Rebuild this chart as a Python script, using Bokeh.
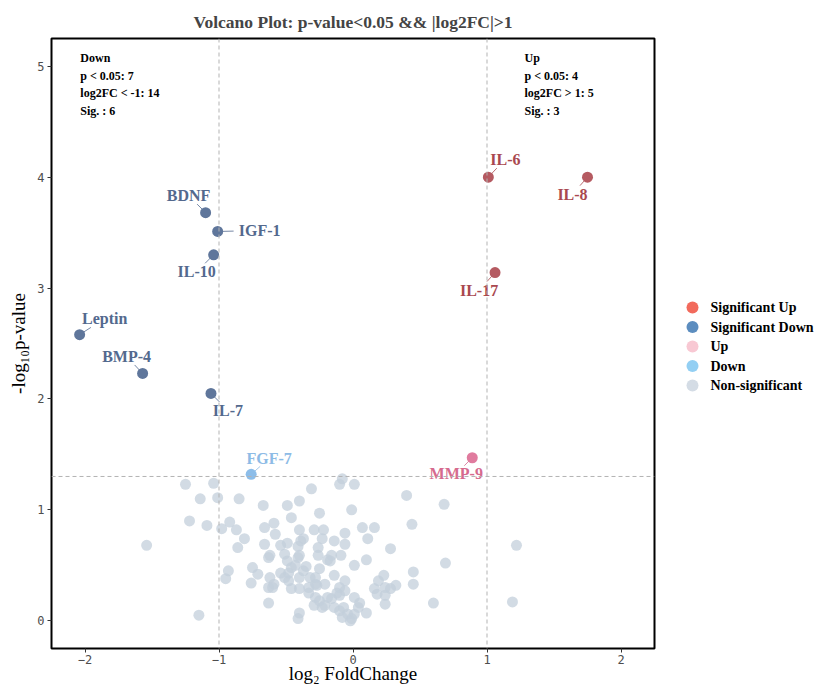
import math
from bokeh.plotting import figure
from bokeh.layouts import row
from bokeh.models import Range1d, Span, Label, FixedTicker
from bokeh.embed import file_html
from bokeh.resources import INLINE
from bokeh.core.properties import value

# ---------------- data ----------------
genes = ["IL-6", "IL-8", "IL-17", "MMP-9", "BDNF", "IGF-1", "IL-10",
         "Leptin", "BMP-4", "IL-7", "FGF-7"]
gene_log2fc = [1.01, 1.75, 1.06, 0.89, -1.10, -1.01, -1.04, -2.04, -1.57, -1.06, -0.76]
gene_neglog10p = [4.00, 4.00, 3.14, 1.47, 3.68, 3.51, 3.30, 2.58, 2.23, 2.05, 1.32]

ns_log2fc = [
    -1.54, -1.25, -1.04, -1.14, -1.01, -0.85, -1.22, -1.09, -0.98, -0.92, -0.87, -0.81, -0.86, -1.15,
    -0.95, -0.93, -0.75, -0.71, -0.76, -0.63, -0.63, -0.63, -0.66, -0.66, -0.67,
    -0.49, -0.40, -0.46, -0.31, -0.25, -0.08, -0.10, 0.01, -0.01,
    -0.59, -0.58, -0.54, -0.49, -0.51, -0.49, -0.40, -0.39, -0.37, -0.41, -0.41, -0.35,
    -0.29, -0.22, -0.23, -0.14, -0.06, -0.06, 0.07, 0.16, 0.11,
    -0.09, -0.16, -0.19, -0.26, -0.26, -0.25, 0.28, 0.10, 0.01,
    -0.14, -0.21, -0.28, -0.32, -0.37, -0.40, -0.46, -0.48, -0.46, -0.51, -0.54, -0.48, -0.59, -0.40,
    -0.33, -0.28, -0.25, -0.21, -0.16, -0.12, -0.10, -0.06, -0.14, -0.10, -0.07, -0.04, -0.01, 0.01,
    0.05, 0.04, 0.10, -0.40, -0.41,
    0.16, 0.19, 0.23, 0.24, 0.28, 0.32, 0.24, 0.18, 0.24, -0.02, -0.06, -0.62, -0.60, -0.40, -0.17, -0.62,
    0.40, 0.68, 0.44, 0.69, 0.45, 0.45, 0.60, 1.22, 1.19,
    -0.27, -0.33, -0.43, -0.28, -0.10, -0.19, -0.23, -0.29, 0.01, -0.08]
ns_neglog10p = [
    0.68, 1.23, 1.24, 1.10, 1.11, 1.10, 0.90, 0.86, 0.83, 0.89, 0.82, 0.74, 0.66, 0.05,
    0.38, 0.45, 0.48, 0.42, 0.34, 0.16, 0.30, 0.57, 0.84, 0.69, 1.04,
    1.04, 1.08, 0.93, 1.19, 0.97, 1.28, 1.23, 1.23, 1.00,
    0.88, 0.78, 0.68, 0.70, 0.60, 0.54, 0.82, 0.72, 0.74, 0.67, 0.57, 0.49,
    0.82, 0.82, 0.74, 0.72, 0.79, 0.69, 0.84, 0.84, 0.74,
    0.59, 0.59, 0.55, 0.66, 0.59, 0.47, 0.65, 0.55, 0.50,
    0.41, 0.33, 0.33, 0.39, 0.45, 0.39, 0.48, 0.36, 0.29, 0.39, 0.43, 0.43, 0.33, 0.29,
    0.25, 0.21, 0.18, 0.14, 0.20, 0.25, 0.30, 0.27, 0.12, 0.09, 0.12, 0.06, 0.02, 0.21,
    0.16, 0.12, 0.07, 0.07, 0.02,
    0.29, 0.36, 0.41, 0.30, 0.29, 0.32, 0.15, 0.24, 0.23, 0.00, 0.36, 0.39, 0.30, 0.59, 0.54, 0.59,
    1.13, 1.05, 0.87, 0.52, 0.44, 0.33, 0.16, 0.68, 0.17,
    0.32, 0.30, 0.50, 0.39, 0.23, 0.21, 0.12, 0.14, 0.06, 0.03]
assert len(ns_log2fc) == len(ns_neglog10p)

x_ticks = [-2, -1, 0, 1, 2]
y_ticks = [0, 1, 2, 3, 4, 5]
legend_labels = ["Significant Up", "Significant Down", "Up", "Down", "Non-significant"]

P_CUT = -math.log10(0.05)
FC_CUT = 1.0

# ---------------- layout / style ----------------
X_RANGE = (-2.25, 2.25)
Y_RANGE = (-0.25, 5.25)
W, H = 656, 686
BL, BR, BT, BB = 51, 2, 38, 38
LEG_W = 161
PXX = (W - BL - BR) / (X_RANGE[1] - X_RANGE[0])
PXY = (H - BT - BB) / (Y_RANGE[1] - Y_RANGE[0])

SERIF = "Liberation Serif"
point_col = {"sig_up": "#b55a61", "sig_down": "#5f769b", "up": "#e07b9e", "down": "#8cbde9"}
text_col = {"sig_up": "#a9484f", "sig_down": "#53698e", "up": "#d66a8e", "down": "#8dbbe6"}
legend_colors = ["#f26a5c", "#5c8dbf", "#f8c8d3", "#93cff3", "#d4dce5"]
NS_COLOR = "#c3cfdb"

# label offsets (px, right / down) and leader-line fraction
label_dx = [17, -15, -16, -16, -17, 42, -17, 25, -16, 17, 18]
label_dy = [-18, 17, 18, 16, -17, -1, 17, -16, -17, 17, -16]
lead_frac = [0.5, 0.5, 0.5, 0.5, 0.5, 0.38, 0.5, 0.45, 0.5, 0.5, 0.5]

# legend geometry (page pixels; the legend panel's frame is aligned with the main frame)
LEG_DOT_X, LEG_TXT_X, LEG_TOP_Y, LEG_STEP = 36, 54, 307, 19.5


def group(fc, lp):
    if lp > P_CUT and fc > FC_CUT:
        return "sig_up"
    if lp > P_CUT and fc < -FC_CUT:
        return "sig_down"
    if lp > P_CUT and fc > 0:
        return "up"
    if lp > P_CUT and fc < 0:
        return "down"
    return "ns"


all_fc = gene_log2fc + ns_log2fc
all_lp = gene_neglog10p + ns_neglog10p
down_p = sum(1 for f, l in zip(all_fc, all_lp) if l > P_CUT and f < 0)
down_fc = sum(1 for f in all_fc if f < -FC_CUT)
down_sig = sum(1 for f, l in zip(all_fc, all_lp) if l > P_CUT and f < -FC_CUT)
up_p = sum(1 for f, l in zip(all_fc, all_lp) if l > P_CUT and f > 0)
up_fc = sum(1 for f in all_fc if f > FC_CUT)
up_sig = sum(1 for f, l in zip(all_fc, all_lp) if l > P_CUT and f > FC_CUT)

p = figure(width=W, height=H, output_backend="svg", toolbar_location=None,
           x_range=Range1d(*X_RANGE), y_range=Range1d(*Y_RANGE),
           min_border_left=BL, min_border_right=BR, min_border_top=BT, min_border_bottom=BB)
p.background_fill_color = "white"
p.border_fill_color = "white"
p.grid.visible = False
p.outline_line_color = "black"
p.outline_line_width = 2

p.title.text = "Volcano Plot: p-value<0.05 && |log2FC|>1"
p.title.align = "center"
p.title.text_font = SERIF
p.title.text_font_style = "bold"
p.title.text_font_size = "17.5px"
p.title.standoff = 14

for ax, ticks in ((p.xaxis, x_ticks), (p.yaxis, y_ticks)):
    ax.ticker = FixedTicker(ticks=ticks)
    ax.axis_line_color = None
    ax.major_tick_in = 0
    ax.major_tick_out = 4
    ax.major_tick_line_color = "#333333"
    ax.minor_tick_line_color = None
    ax.major_label_text_font = "DejaVu Sans Mono"
    ax.major_label_text_font_size = "12px"
    ax.major_label_text_color = "#4d4d4d"
    ax.axis_label_text_font = SERIF
    ax.axis_label_text_font_style = "normal"
    ax.axis_label_text_font_size = "19px"
    ax.axis_label_text_color = "black"

p.xaxis.axis_label = "log\u2082 FoldChange"
p.xaxis.major_label_standoff = 2
p.xaxis.axis_label_standoff = -4
p.yaxis.axis_label = "-log\u2081\u2080p-value"
p.yaxis.major_label_standoff = 3
p.yaxis.axis_label_standoff = 5

# threshold lines
for loc, dim in ((P_CUT, "width"), (-FC_CUT, "height"), (FC_CUT, "height")):
    p.add_layout(Span(location=loc, dimension=dim, line_color="#b3b3b3",
                      line_dash="4 3", line_width=1))

# non-significant points
p.scatter(ns_log2fc, ns_neglog10p, size=11, fill_color=NS_COLOR, fill_alpha=0.75, line_color=None)

# leader lines and labels
groups = [group(f, l) for f, l in zip(gene_log2fc, gene_neglog10p)]
lx = [f + dx / PXX for f, dx in zip(gene_log2fc, label_dx)]
ly = [l - dy / PXY for l, dy in zip(gene_neglog10p, label_dy)]
sx1 = [f + fr * dx / PXX for f, dx, fr in zip(gene_log2fc, label_dx, lead_frac)]
sy1 = [l - fr * dy / PXY for l, dy, fr in zip(gene_neglog10p, label_dy, lead_frac)]
p.segment(x0=gene_log2fc, y0=gene_neglog10p, x1=sx1, y1=sy1,
          line_color=[text_col[g] for g in groups], line_width=1, line_alpha=0.8)
p.scatter(gene_log2fc, gene_neglog10p, size=11,
          fill_color=[point_col[g] for g in groups], line_color=None)
p.text(x=lx, y=ly, text=genes, text_color=[text_col[g] for g in groups],
       text_font=value(SERIF), text_font_style="bold", text_font_size="16px",
       text_align="center", text_baseline="middle")

# summary boxes
down_txt = f"Down\np < 0.05: {down_p}\nlog2FC < -1: {down_fc}\nSig. : {down_sig}"
up_txt = f"Up\np < 0.05: {up_p}\nlog2FC > 1: {up_fc}\nSig. : {up_sig}"
for tx, x0 in ((down_txt, -2.035), (up_txt, 1.28)):
    p.add_layout(Label(x=x0, y=5.133, text=tx, text_font=SERIF, text_font_style="bold",
                       text_font_size="12px", text_baseline="top", text_align="left",
                       text_line_height=1.24, text_color="black"))

# legend drawn in its own narrow panel on the right (page-pixel coordinates)
pl = figure(width=LEG_W, height=H, output_backend="svg", toolbar_location=None,
            x_range=Range1d(0, LEG_W), y_range=Range1d(H - BB, BT), min_border=0)
pl.axis.visible = False
pl.grid.visible = False
pl.outline_line_color = None
pl.background_fill_color = "white"
pl.border_fill_color = "white"
leg_y = [LEG_TOP_Y + i * LEG_STEP for i in range(len(legend_labels))]
pl.scatter(x=[LEG_DOT_X] * len(leg_y), y=leg_y, size=12, fill_color=legend_colors, line_color=None)
pl.text(x=[LEG_TXT_X] * len(leg_y), y=leg_y, text=legend_labels, text_font=value(SERIF),
        text_font_style="bold", text_font_size="14px", text_color="black",
        text_align="left", text_baseline="middle")

layout = row(p, pl, spacing=0)
open("out.html", "w").write(file_html(layout, INLINE))
